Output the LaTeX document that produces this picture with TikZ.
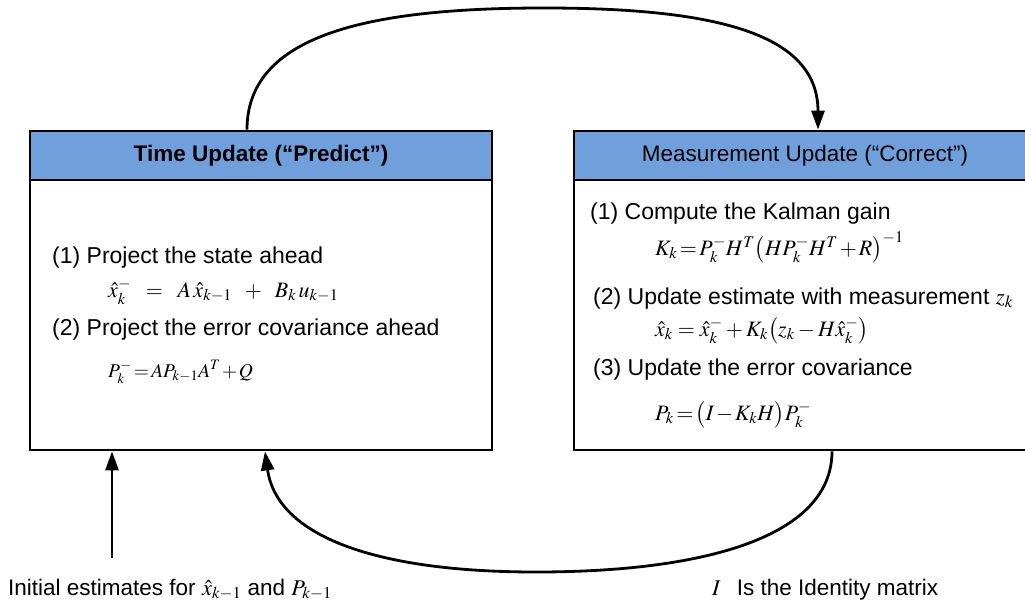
\documentclass[tikz,border=0pt]{standalone}
\usepackage{mathptmx}
\usepackage[no-math]{fontspec}
\setmainfont{Liberation Sans}
\usetikzlibrary{arrows.meta}
\definecolor{headblue}{RGB}{112,160,220}
\newcommand\tightmath{\thickmuskip=2mu\relax\medmuskip=1.5mu\relax}
\tikzset{
  panel/.style={draw=black, line width=2.8pt, fill=white, minimum width=462pt, minimum height=319pt, inner sep=0pt},
  panelhead/.style={draw=black, line width=2.8pt, fill=headblue, minimum width=462pt, minimum height=49pt, inner sep=0pt, font=\fontsize{22.5}{26}\selectfont},
  txt/.style={anchor=base west, inner sep=0pt, font=\fontsize{23}{27}\selectfont},
  note/.style={anchor=base west, inner sep=0pt, font=\fontsize{22.5}{27}\selectfont},
  eq/.style={anchor=base west, inner sep=0pt, font=\fontsize{22}{26}\selectfont},
  flow/.style={line width=2.8pt, -{Triangle[length=19pt,width=13pt]}}
}
\begin{document}
\begin{tikzpicture}[x=1pt, y=-1pt]
\useasboundingbox (0,0) rectangle (1025,604);
\clip (0,0) rectangle (1025,604);

% Time update panel
\node[panel] (tu) at (261,290.5) {};
\node[panelhead, font=\fontsize{22.5}{26}\selectfont\bfseries] (tuh) at (261,155.5) {Time Update (“Predict”)};
\node[txt] (tu1) at (52,263) {(1) Project the state ahead};
\node[eq] (tuf1) at (108,297) {$\hat{x}_k^{-} \;\;=\;\; A\,\hat{x}_{k-1} \;\;+\;\; B_k\,u_{k-1}$};
\node[txt] (tu2) at (52,335) {(2) Project the error covariance ahead};
\node[eq, font=\fontsize{19.5}{24}\selectfont] (tuf2) at (108,377) {\tightmath$P_k^{-} = AP_{k-1}A^{T} + Q$};

% Measurement update panel
\node[panel] (mu) at (805,290.5) {};
\node[panelhead] (muh) at (805,155.5) {Measurement Update (“Correct”)};
\node[txt] (mu1) at (590,219) {(1) Compute the Kalman gain};
\node[eq] (muf1) at (655,255) {\tightmath$K_k = P_k^{-}H^{T}\bigl(HP_k^{-}H^{T} + R\bigr)^{-1}$};
\node[txt] (mu2) at (593,304) {(2) Update estimate with measurement $z_k$};
\node[eq] (muf2) at (655,336) {$\hat{x}_k = \hat{x}_k^{-} + K_k\bigl(z_k - H\hat{x}_k^{-}\bigr)$};
\node[txt] (mu3) at (593,375) {(3) Update the error covariance};
\node[eq] (muf3) at (655,420) {\tightmath$P_k = \bigl(I - K_kH\bigr)P_k^{-}$};

% Notes below the panels
\node[note] (init) at (8,595) {Initial estimates for $\hat{x}_{k-1}$ and $P_{k-1}$};
\node[note] (ident) at (712,595) {$I$\hspace{16pt}Is the Identity matrix};

% Loop between the two stages
\coordinate (topmid) at (544,8);
\coordinate (lowmid) at (536,572);
\draw[flow] ([xshift=-14pt]tuh.north) .. controls +(0,-95) and +(-175,0) .. (topmid)
  .. controls +(175,0) and +(0,-95) .. ([xshift=13pt]muh.north);
\draw[flow] ([xshift=27pt]mu.south) .. controls +(0,85) and +(170,0) .. (lowmid)
  .. controls +(-160,0) and +(12,85) .. ([xshift=4pt]tu.south);

% Initial estimates feeding the first stage
\coordinate (initfoot) at (112,558);
\draw[flow] (initfoot) -- (tu.south -| initfoot);
\end{tikzpicture}
\end{document}
